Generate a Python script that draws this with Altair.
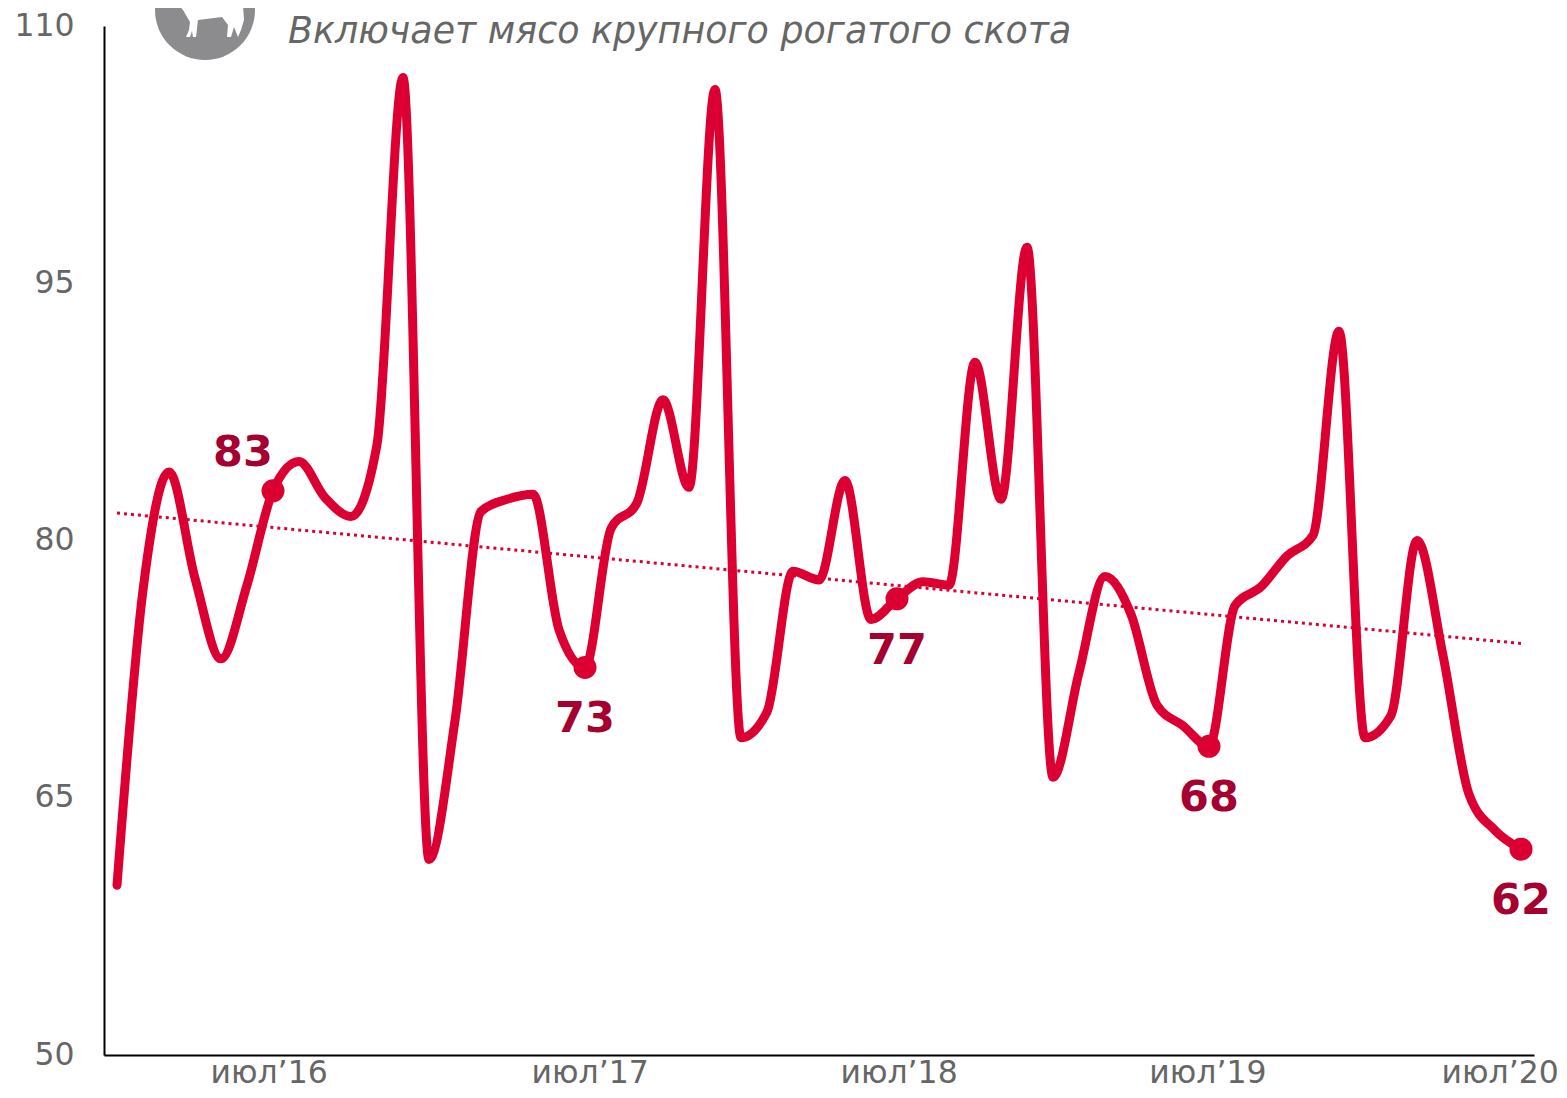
import altair as alt
import pandas as pd

values = [59.9, 77.1, 84.0, 77.8, 73.1, 77.4, 82.9, 84.6, 82.5, 81.4, 85.6, 107.0, 61.4, 69.5, 81.7,
          82.4, 82.7, 74.8, 72.6, 80.7, 82.2, 88.2, 83.1, 106.3, 68.5, 70.0, 78.2, 77.7, 83.5, 75.4,
          76.6, 77.6, 77.4, 90.4, 82.4, 97.1, 66.2, 72.3, 77.9, 75.7, 70.4, 69.2, 68.0, 76.2, 77.3,
          79.1, 80.3, 92.2, 68.5, 69.8, 80.0, 73.3, 65.2, 63.1, 62.0]
trend_x = [0, 54]
trend_y = [81.6, 74.0]
mark_months = [6, 18, 30, 42, 54]
mark_text = ["83", "73", "77", "68", "62"]
mark_dx = [-30, 0, 0, 0, 0]
mark_dy = [-38, 52, 52, 52, 52]
tick_pos = [5.85, 18.2, 30.08, 41.96, 53.2]
tick_text = ["июл’16", "июл’17", "июл’18", "июл’19", "июл’20"]
y_ticks = [50, 65, 80, 95, 110]
title_text = "Включает мясо крупного рогатого скота"
cow_path = ("M-0.74,-0.36 L-0.44,0 L-0.3,0.24 L-0.32,0.4 L-0.38,0.54 L-0.3,0.54 L-0.26,0.42 L-0.24,0.54 L-0.18,0.54 "
            "L-0.14,0.2 L0.34,0.14 L0.46,0.3 L0.44,0.54 L0.52,0.54 L0.58,0.34 L0.66,0.54 L0.72,0.4 L0.78,0.2 "
            "L0.76,-0.1 L0.82,-0.2 L0.8,-0.4 Z")

FONT = "DejaVu Sans"
RED = "#DC0032"
DARK = "#A50030"
GREY = "#666666"

df = pd.DataFrame({"m": list(range(len(values))), "v": values})
df_t = pd.DataFrame({"m": trend_x, "v": trend_y})
df_m = pd.DataFrame({"m": mark_months, "v": [values[i] for i in mark_months], "t": mark_text})
df_x = pd.DataFrame({"m": tick_pos, "t": tick_text})

xs = alt.Scale(domain=[-0.5, 54.5], nice=False, zero=False)
ys = alt.Scale(domain=[50, 110], nice=False, zero=False)
X = alt.X("m:Q", scale=xs, axis=alt.Axis(title=None, labels=False, ticks=False, grid=False, domainColor="#000000", domainWidth=2))
Y = alt.Y("v:Q", scale=ys, axis=alt.Axis(title=None, values=y_ticks, ticks=False, grid=False, domainColor="#000000",
                                         domainWidth=2, labelFont=FONT, labelFontSize=31.5, labelColor=GREY,
                                         labelPadding=30, labelBound=False))

trend = alt.Chart(df_t).mark_line(color=RED, strokeWidth=3, strokeDash=[3, 4]).encode(x=X, y=Y)
line = alt.Chart(df).mark_line(color=RED, strokeWidth=9, interpolate="monotone", strokeCap="round").encode(x=X, y=Y)
pts = alt.Chart(df_m).mark_circle(color=RED, opacity=1, size=529).encode(x=X, y=Y)
labels = [
    alt.Chart(df_m.iloc[[i]]).mark_text(font=FONT, fontSize=43, fontWeight="bold", color=DARK,
                                        dx=mark_dx[i], dy=mark_dy[i]).encode(x=X, y=Y, text="t:N")
    for i in range(len(mark_text))
]
xlab = alt.Chart(df_x).mark_text(font=FONT, fontSize=31.5, color=GREY, baseline="alphabetic").encode(
    x=X, y=alt.value(1057), text="t:N")
one = pd.DataFrame({"t": [title_text]})
circle = alt.Chart(one).mark_point(shape="circle", filled=True, color="#8C8C8E", opacity=1, size=10000).encode(
    x=alt.value(101), y=alt.value(-16))
cow = alt.Chart(one).mark_point(shape=cow_path, filled=True, color="#FFFFFF", opacity=1, size=10000).encode(
    x=alt.value(101), y=alt.value(-16))
title = alt.Chart(one).mark_text(font=FONT, fontSize=36.4, fontStyle="italic", color=GREY, align="left",
                                 baseline="alphabetic").encode(x=alt.value(184), y=alt.value(17), text="t:N")

chart = alt.layer(trend, line, pts, *labels, xlab, circle, cow, title).properties(
    width=1430, height=1029,
    autosize=alt.AutoSizeParams(type="none"),
    padding={"left": 96, "top": 18, "right": 25, "bottom": 35},
).configure_view(stroke=None)

chart.save("out.html", embed_options={"renderer": "svg", "actions": False})
